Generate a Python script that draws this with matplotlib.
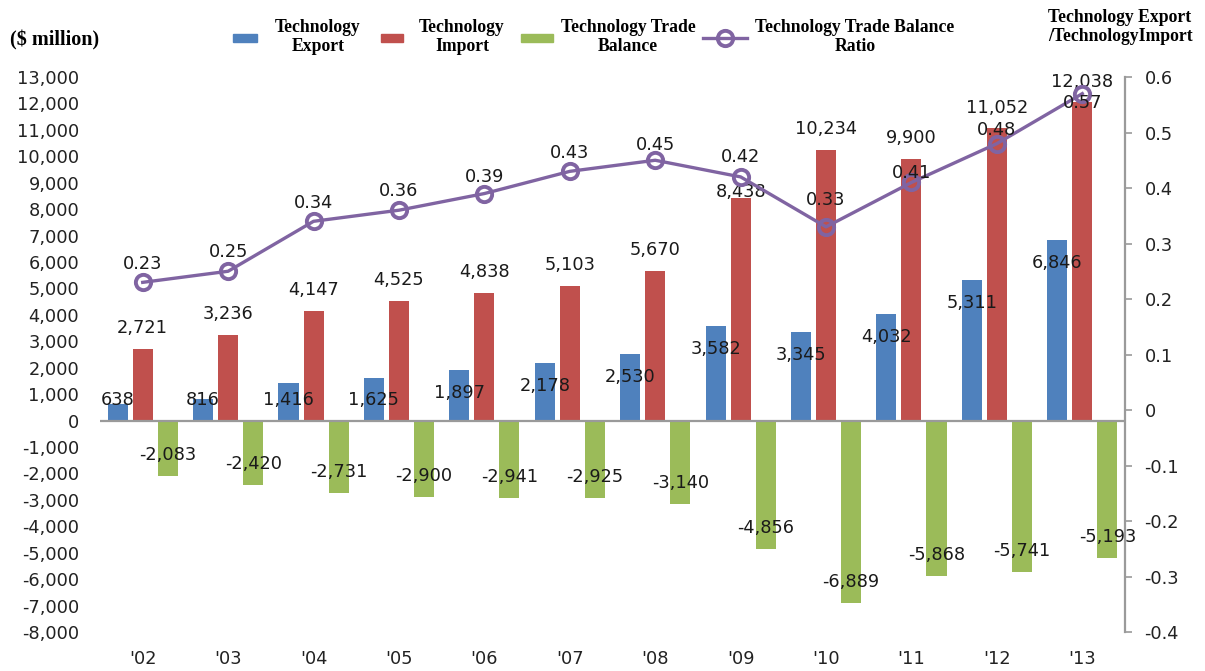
import matplotlib
matplotlib.use("Agg")
import matplotlib.pyplot as plt
import numpy as np
from matplotlib.patches import Rectangle
from matplotlib.lines import Line2D

# data
years = ["'02", "'03", "'04", "'05", "'06", "'07", "'08", "'09", "'10", "'11", "'12", "'13"]
tech_export = [638, 816, 1416, 1625, 1897, 2178, 2530, 3582, 3345, 4032, 5311, 6846]
tech_import = [2721, 3236, 4147, 4525, 4838, 5103, 5670, 8438, 10234, 9900, 11052, 12038]
trade_balance = [-2083, -2420, -2731, -2900, -2941, -2925, -3140, -4856, -6889, -5868, -5741, -5193]
balance_ratio = [0.23, 0.25, 0.34, 0.36, 0.39, 0.43, 0.45, 0.42, 0.33, 0.41, 0.48, 0.57]

BLUE = "#4F81BD"
RED = "#C0504D"
GREEN = "#9BBB59"
PURPLE = "#8064A2"
GRAY = "#9A9A9A"

W, H = 1205, 671
fig = plt.figure(figsize=(W / 100, H / 100), dpi=100)
ax = fig.add_axes([100 / W, 1 - 632 / H, 1025 / W, 555 / H])
ax2 = ax.twinx()

x = np.arange(len(years))
bw = 0.235
off = 0.293

ax.bar(x - off, tech_export, bw, color=BLUE, zorder=2)
ax.bar(x, tech_import, bw, color=RED, zorder=2)
ax.bar(x + off, trade_balance, bw, color=GREEN, zorder=2)

ax.set_xlim(-0.5, len(years) - 0.5)
ax.set_ylim(-8000, 13000)
ax.set_yticks(np.arange(-8000, 13001, 1000))
ax.set_yticklabels([f"{v:,}" for v in np.arange(-8000, 13001, 1000)])
ax.set_xticks(x)
ax.set_xticklabels(years)
ax.axhline(0, color=GRAY, lw=1.6, zorder=3)

for s in ["top", "left", "bottom", "right"]:
    ax.spines[s].set_visible(False)
ax.tick_params(axis="y", length=0, pad=15, labelsize=12.8, labelcolor="#222222")
ax.tick_params(axis="x", length=0, pad=13, labelsize=12.8, labelcolor="#222222")

# data labels
lab = dict(fontsize=12.8, color="#1a1a1a", ha="center", va="center", zorder=5)
for i in range(len(years)):
    ye = max(tech_export[i] - 870, 780)
    ax.text(x[i] - off, ye, f"{tech_export[i]:,}", **lab)
    dy = 4 if i == 7 else 15
    ax.annotate(f"{tech_import[i]:,}", (x[i], tech_import[i]), xytext=(0, dy),
                textcoords="offset points", **lab)
    ax.annotate(f"{trade_balance[i]:,}", (x[i] + off, trade_balance[i]), xytext=(0, 15),
                textcoords="offset points", **lab)

# ratio line on the right axis
ax2.plot(x, balance_ratio, color=PURPLE, lw=2.4, marker="o", ms=11,
         mfc="none", mec=PURPLE, mew=2.8, zorder=4)
ax2.set_ylim(-0.4, 0.6)
ax2.set_yticks(np.arange(-0.4, 0.61, 0.1))
ax2.set_yticklabels(["-0.4", "-0.3", "-0.2", "-0.1", "0", "0.1", "0.2", "0.3", "0.4", "0.5", "0.6"])
for s in ["top", "left", "bottom"]:
    ax2.spines[s].set_visible(False)
ax2.spines["right"].set_color(GRAY)
ax2.spines["right"].set_linewidth(1.6)
ax2.tick_params(axis="y", length=5, width=1.2, color=GRAY, pad=9, labelsize=12.8, labelcolor="#222222")

ratio_dy = [13, 14, 13, 14, 12, 13, 11, 14, 19, 7, 10, -7]
for i in range(len(years)):
    ax2.annotate(f"{balance_ratio[i]:.2f}", (x[i], balance_ratio[i]), xytext=(0, ratio_dy[i]),
                 textcoords="offset points", **lab)

# header texts and legend (placed in figure pixels)
def fx(px):
    return px / W

def fy(py):
    return 1 - py / H

hdr = dict(family="Liberation Serif", fontweight="bold", fontsize=12.7, color="black")
fig.text(fx(10), fy(40), "($ million)", ha="left", va="center", fontsize=14.5,
         family="Liberation Serif", fontweight="bold")
fig.text(fx(1120), fy(27), "Technology Export\n/TechnologyImport", ha="center", va="center",
         linespacing=1.1, **hdr)

leg_items = [(233, 257, BLUE, 318, "Technology\nExport"),
             (381, 403, RED, 462, "Technology\nImport"),
             (521, 553, GREEN, 628, "Technology Trade\nBalance")]
for x0, x1, c, tx, t in leg_items:
    fig.add_artist(Rectangle((fx(x0), fy(42)), fx(x1 - x0), 8 / H, color=c,
                             transform=fig.transFigure))
    fig.text(fx(tx), fy(37), t, ha="center", va="center", linespacing=1.1, **hdr)

fig.add_artist(Line2D([fx(703), fx(747)], [fy(38), fy(38)], color=PURPLE, lw=2.4,
                      transform=fig.transFigure))
fig.add_artist(Line2D([fx(725)], [fy(38)], color=PURPLE, marker="o", ms=11, mfc="none",
                      mew=2.8, transform=fig.transFigure))
fig.text(fx(855), fy(37), "Technology Trade Balance\nRatio", ha="center", va="center",
         linespacing=1.1, **hdr)

fig.savefig("out.png", dpi=100)
